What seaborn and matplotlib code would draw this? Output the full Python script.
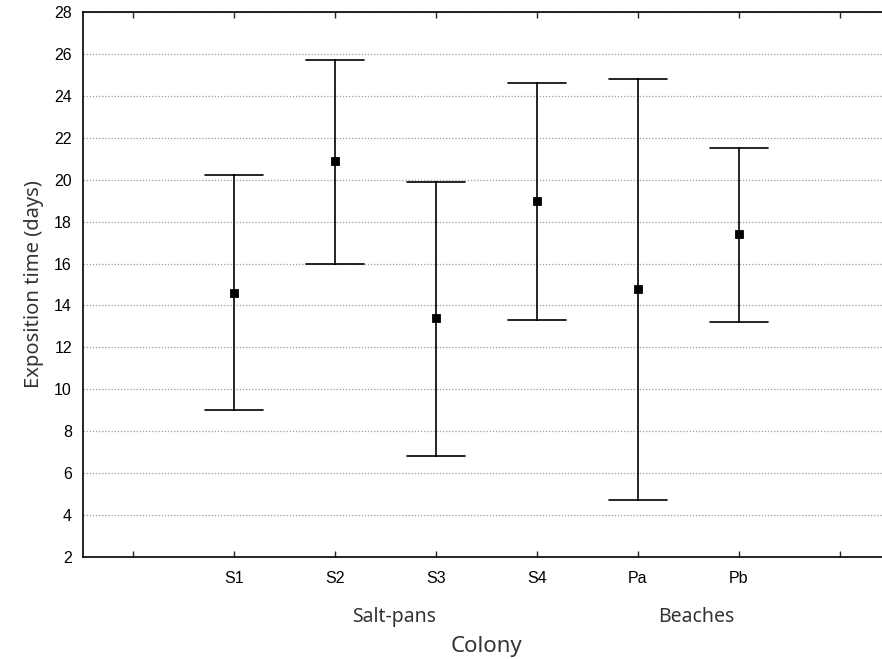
import numpy as np
import pandas as pd
import seaborn as sns
import matplotlib.pyplot as plt

# values
colonies = ['S1', 'S2', 'S3', 'S4', 'Pa', 'Pb']
habitat = ['Salt-pans', 'Salt-pans', 'Salt-pans', 'Salt-pans', 'Beaches', 'Beaches']
mean_days = [14.6, 20.9, 13.4, 19.0, 14.8, 17.4]
lower_days = [9.0, 16.0, 6.8, 13.3, 4.7, 13.2]
upper_days = [20.2, 25.7, 19.9, 24.6, 24.8, 21.5]

# empty slots at both ends, as in the original layout
order = [''] + colonies + [' ']

# long form: one row per (lower, mean, upper) so the median is the mean and min/max are the bar ends
rows = []
for c, lo, m, hi in zip(colonies, lower_days, mean_days, upper_days):
    for v in (lo, m, hi):
        rows.append({'Colony': c, 'days': v})
df = pd.DataFrame(rows)

sns.set_style('white')
plt.rcParams['font.family'] = ['Liberation Sans', 'DejaVu Sans']

fig = plt.figure(figsize=(8.82, 6.59), dpi=100)
ax = fig.add_axes([0.0941, 0.1548, 0.915, 0.827])

sns.pointplot(data=df, x='Colony', y='days', order=order,
              estimator='median', errorbar=lambda v: (v.min(), v.max()),
              color='black', markers='s', markersize=4.5, linestyle='none',
              capsize=0.575, err_kws={'linewidth': 1.2}, ax=ax)

ax.set_xlim(-0.5, 7.5)
ax.set_ylim(2, 28)
ax.set_yticks(np.arange(2, 29, 2))
ax.set_xticks(range(len(order)))
ax.set_xticklabels(order)
ax.tick_params(axis='both', labelsize=11.5, labelcolor='black')
ax.tick_params(axis='y', direction='in', length=2, width=1, pad=8)
ax.tick_params(axis='x', direction='in', length=4, width=1, pad=10,
               top=True, bottom=True)
ax.grid(axis='y', linestyle=(0, (1, 1.5)), color='#9a9a9a', linewidth=0.9)
ax.grid(axis='x', visible=False)
for s in ax.spines.values():
    s.set_color('black')
    s.set_linewidth(1.2)

lab = dict(family='Noto Sans', color='#333333')
ax.set_xlabel('Colony', fontsize=16, labelpad=36, **lab)
ax.set_ylabel('Exposition time (days)', fontsize=14.5, labelpad=7, **lab)

# group labels under the colony ticks
for g in ['Salt-pans', 'Beaches']:
    pos = [order.index(c) for c, h in zip(colonies, habitat) if h == g]
    ax.text(np.mean(pos) + 0.08, -0.111, g, transform=ax.get_xaxis_transform(),
            ha='center', va='center', fontsize=14, **lab)

fig.savefig('out.png', dpi=100)
